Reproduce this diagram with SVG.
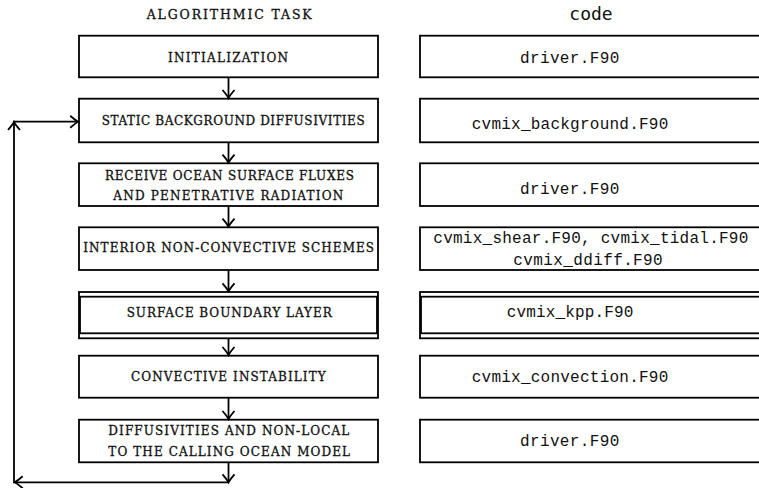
<svg xmlns="http://www.w3.org/2000/svg" width="759" height="488" viewBox="0 0 759 488">
<style>
.box{fill:#fff;stroke:#000;stroke-width:1.8}
.sc{font-family:"DejaVu Serif","Liberation Serif",serif;font-size:12px;fill:#111;stroke:#111;stroke-width:0.3}
.hd{font-family:"DejaVu Serif","Liberation Serif",serif;font-size:12.5px;fill:#111;stroke:#111;stroke-width:0.3}
.tt{font-family:"Liberation Mono","Courier New",monospace;font-size:16px;fill:#111}
.cd{font-family:"DejaVu Sans Mono",monospace;font-size:18px;fill:#111}
.ln{fill:none;stroke:#000;stroke-width:1.8}
</style>
<defs>
<marker id="ah" markerUnits="userSpaceOnUse" markerWidth="14" markerHeight="14" refX="0" refY="0" viewBox="-10 -7 12 14" orient="auto" overflow="visible">
<path d="M-8,-6 Q-2.5,-1.3 0,0 Q-2.5,1.3 -8,6" fill="none" stroke="#000" stroke-width="1.8"/>
</marker>
</defs>
<text class="hd" x="146.7" y="19" textLength="165" lengthAdjust="spacing">ALGORITHMIC TASK</text>
<text class="cd" x="591" y="20" text-anchor="middle">code</text>

<g id="task1"><rect class="box" x="79" y="35.7" width="299" height="41.6"/><text class="sc" x="168" y="61.7" textLength="120" lengthAdjust="spacing">INITIALIZATION</text></g>
<g id="task2"><rect class="box" x="79" y="98.7" width="299" height="43.6"/><text class="sc" x="101.7" y="125" textLength="263" lengthAdjust="spacing">STATIC BACKGROUND DIFFUSIVITIES</text></g>
<g id="task3"><rect class="box" x="79" y="163.3" width="299" height="42.7"/><text class="sc" x="105" y="180" textLength="249" lengthAdjust="spacing">RECEIVE OCEAN SURFACE FLUXES</text><text class="sc" x="113.3" y="200" textLength="230" lengthAdjust="spacing">AND PENETRATIVE RADIATION</text></g>
<g id="task4"><rect class="box" x="79" y="227.3" width="299" height="42.7"/><text class="sc" x="83.3" y="251.7" textLength="290.7" lengthAdjust="spacing">INTERIOR NON-CONVECTIVE SCHEMES</text></g>
<g id="task5"><rect class="box" x="79" y="292" width="299" height="46.3"/><rect class="box" x="80" y="296.7" width="297" height="36.6"/><text class="sc" x="126.7" y="316.7" textLength="205" lengthAdjust="spacing">SURFACE BOUNDARY LAYER</text></g>
<g id="task6"><rect class="box" x="79" y="355.7" width="299" height="42"/><text class="sc" x="131" y="381" textLength="194.7" lengthAdjust="spacing">CONVECTIVE INSTABILITY</text></g>
<g id="task7"><rect class="box" x="79" y="419.7" width="299" height="42.6"/><text class="sc" x="108.3" y="435" textLength="241" lengthAdjust="spacing">DIFFUSIVITIES AND NON-LOCAL</text><text class="sc" x="108.3" y="455.5" textLength="241.7" lengthAdjust="spacing">TO THE CALLING OCEAN MODEL</text></g>

<g id="code1"><rect class="box" x="420" y="35.7" width="360" height="41.6"/><text class="tt" x="520" y="63" textLength="99.3" lengthAdjust="spacing">driver.F90</text></g>
<g id="code2"><rect class="box" x="420" y="98.7" width="360" height="43.6"/><text class="tt" x="471.7" y="129" textLength="196.6" lengthAdjust="spacing">cvmix_background.F90</text></g>
<g id="code3"><rect class="box" x="420" y="163.3" width="360" height="42.7"/><text class="tt" x="520" y="193.5" textLength="99.3" lengthAdjust="spacing">driver.F90</text></g>
<g id="code4"><rect class="box" x="420" y="227.3" width="360" height="42.7"/><text class="tt" x="433.3" y="243" textLength="315" lengthAdjust="spacing">cvmix_shear.F90, cvmix_tidal.F90</text><text class="tt" x="513.3" y="264.5" textLength="149.4" lengthAdjust="spacing">cvmix_ddiff.F90</text></g>
<g id="code5"><rect class="box" x="420" y="292" width="360" height="46.3"/><rect class="box" x="421" y="296.7" width="358" height="36.6"/><text class="tt" x="506.7" y="317" textLength="126.6" lengthAdjust="spacing">cvmix_kpp.F90</text></g>
<g id="code6"><rect class="box" x="420" y="355.7" width="360" height="42"/><text class="tt" x="471.7" y="382" textLength="196.6" lengthAdjust="spacing">cvmix_convection.F90</text></g>
<g id="code7"><rect class="box" x="420" y="419.7" width="360" height="42.6"/><text class="tt" x="520" y="446" textLength="99.3" lengthAdjust="spacing">driver.F90</text></g>

<g id="connectors">
<line class="ln" x1="228.5" y1="77.3" x2="228.5" y2="98" marker-end="url(#ah)"/>
<line class="ln" x1="228.5" y1="142.3" x2="228.5" y2="162.6" marker-end="url(#ah)"/>
<line class="ln" x1="228.5" y1="206" x2="228.5" y2="226.6" marker-end="url(#ah)"/>
<line class="ln" x1="228.5" y1="270" x2="228.5" y2="291.3" marker-end="url(#ah)"/>
<line class="ln" x1="228.5" y1="338.3" x2="228.5" y2="355" marker-end="url(#ah)"/>
<line class="ln" x1="228.5" y1="397.7" x2="228.5" y2="419" marker-end="url(#ah)"/>
<line class="ln" x1="228.5" y1="462.3" x2="228.5" y2="482.3" marker-end="url(#ah)"/>
<line class="ln" x1="228.5" y1="482.3" x2="14.7" y2="482.3" marker-end="url(#ah)"/>
<line class="ln" x1="14" y1="483.2" x2="14" y2="122" marker-end="url(#ah)"/>
<line class="ln" x1="13.1" y1="121.7" x2="78.2" y2="121.7" marker-end="url(#ah)"/>
</g>
</svg>
